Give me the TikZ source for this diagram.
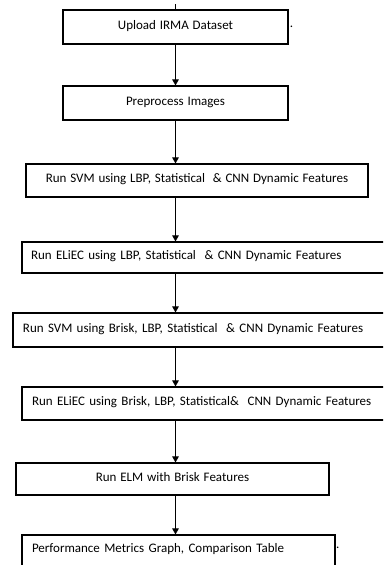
\documentclass[tikz,border=0pt]{standalone}
\usepackage{fontspec}
\setmainfont{Carlito}[WordSpace=1.3]
\usetikzlibrary{arrows.meta, positioning}

\begin{document}
\begin{tikzpicture}[x=1pt, y=-1pt,
    every node/.style={font=\fontsize{13}{15}\selectfont},
    stage/.style={draw, line width=1.1pt, inner xsep=0pt, inner ysep=0pt,
      text height=8pt, text depth=4pt, align=center},
    leftstage/.style={stage, align=left},
    flow/.style={-{Triangle[width=6.5pt, length=6pt]}, line width=0.9pt}]
  \useasboundingbox (0,0) rectangle (383,565);
  \clip (0,0) rectangle (383,565);

  \coordinate (top) at (175.5,4);

  \node[stage, minimum width=225, minimum height=34]
    (upload) at (175.5,27) {Upload IRMA Dataset};
  \node[stage, minimum width=225, minimum height=34]
    (prep) at (175.5,103) {Preprocess Images};
  \node[stage, minimum width=342, minimum height=33]
    (svm) at (197,180.5) {Run SVM using LBP, Statistical\ \ \& CNN Dynamic Features};
  \node[leftstage, text width=352, inner xsep=9pt, minimum height=31]
    (eliec) at (207,257.5) {Run ELiEC using LBP, Statistical\ \ \& CNN Dynamic Features};
  \node[leftstage, text width=359, inner xsep=10pt, minimum height=34]
    (svmb) at (202.5,330) {Run SVM using Brisk, LBP, Statistical\ \ \& CNN Dynamic Features};
  \node[leftstage, text width=350, inner xsep=10pt, minimum height=33]
    (eliecb) at (207,403.5) {Run ELiEC using Brisk, LBP, Statistical\&\ \ CNN Dynamic Features};
  \node[stage, minimum width=313, minimum height=32]
    (elm) at (172.5,479) {Run ELM with Brisk Features};
  \node[leftstage, text width=293, inner xsep=10pt, minimum height=40, text depth=14pt]
    (perf) at (178.5,555) {Performance Metrics Graph, Comparison Table};

  % stray full stops beside the first and last boxes
  \node[inner sep=0pt, anchor=west] (dotA) at ([xshift=1]upload.east) {.};
  \node[inner sep=0pt, anchor=west] (dotB) at (336,548) {.};

  \draw[line width=0.9pt] (top) -- (upload.north -| top);
  \draw[flow] (upload.south -| top) -- (prep.north -| top);
  \draw[flow] (prep.south -| top) -- (svm.north -| top);
  \draw[flow] (svm.south -| top) -- (eliec.north -| top);
  \draw[flow] (eliec.south -| top) -- (svmb.north -| top);
  \draw[flow] (svmb.south -| top) -- (eliecb.north -| top);
  \draw[flow] (eliecb.south -| top) -- (elm.north -| top);
  \draw[flow] (elm.south -| top) -- (perf.north -| top);
\end{tikzpicture}
\end{document}
